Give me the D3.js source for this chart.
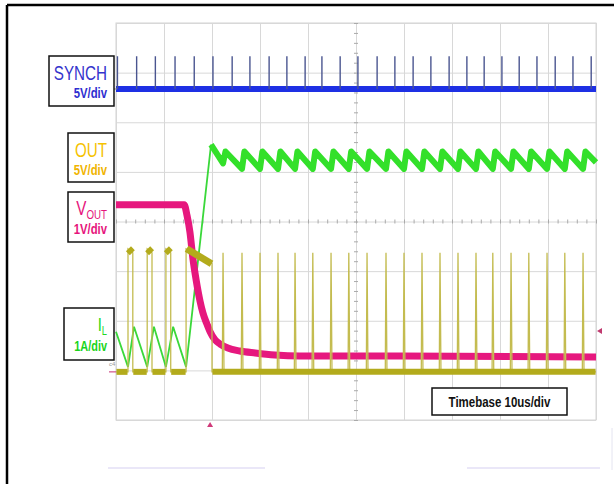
<!DOCTYPE html>
<html>
<head>
<meta charset="utf-8">
<script src="https://cdn.jsdelivr.net/npm/d3@7"></script>
<style>
  html, body { margin: 0; padding: 0; background: #fff; }
  svg { display: block; font-family: "Liberation Sans", Arial, sans-serif; }
</style>
</head>
<body>
<svg id="chart" width="614" height="484"></svg>
<script>
// ---------------- DATA (time in µs, 10 µs/div) ----------------
const timeDomain = [0, 100];
const divDomain = [-4, 4];

// SYNCH (5 V/div): clock spikes
const synchSpikeT = [0.3, 4.3, 8.2, 12.3, 16.3, 20.2, 24.2, 27.9, 31.9, 35.6, 39.4, 42.9, 46.7, 50.4,
                     54.4, 58.1, 61.9, 65.6, 69.4, 73.1, 76.7, 80.4, 84.0, 87.7, 91.5, 95.2, 99.0];
const synchBaseV = 0;
const synchSpikeV = 3.3;

// OUT switch node (5 V/div)
const outPulseRise = [2.5, 6.5, 10.4, 14.6];
const outPulseFall = [3.5, 7.5, 11.4, 20.0];
const outPulseStartV = [12.4, 12.4, 12.4, 12.4];
const outPulseEndV = [12.0, 12.0, 12.0, 10.9];
const outSpikeT = [22.3, 26.25, 30.0, 33.75, 37.3, 41.0, 44.8, 48.5, 52.3, 56.25, 60.0, 63.75, 67.5,
                   71.25, 75.0, 78.5, 82.3, 86.0, 89.8, 93.5, 97.3];
const outSpikeV = 12.0;
const outLowV = 0;

// VOUT (1 V/div)
const voutT = [0, 14.2, 14.8, 15.4, 16.0, 16.7, 17.5, 18.1, 19.0, 19.6, 20.6, 21.7, 23.3, 25.8, 29.0, 33.1, 38.3, 59.2, 100];
const voutV = [3.37, 3.37, 3.15, 2.82, 2.30, 1.85, 1.43, 1.19, 0.95, 0.81, 0.65, 0.56, 0.48, 0.42, 0.38, 0.34, 0.32, 0.32, 0.30];

// IL (1 A/div): normal operation then current limit
const ilT = [0, 2.5, 3.75, 6.5, 7.9, 10.4, 11.9, 14.6, 19.8];
const ilA = [0.81, 0.10, 0.91, 0.10, 0.91, 0.10, 0.91, 0.10, 4.58];
const ilFirstValleyA = 4.2;
const ilValleyA = 4.09;
const ilPeakA = 4.44;
const ilRiseT = 0.5;
const ilEndA = 4.22;

// channel settings: ground position in divisions, units per div
const channels = {
  synch: { offset: 2.67, perDiv: 5 },
  out:   { offset: -3.03, perDiv: 5 },
  vout:  { offset: -3.03, perDiv: 1 },
  il:    { offset: -3.03, perDiv: 1 }
};

// ---------------- DRAW ----------------
const svg = d3.select("#chart");
const L = 116, R = 596, T = 23, B = 420;
const x = d3.scaleLinear().domain(timeDomain).range([L, R]);
const yDiv = d3.scaleLinear().domain(divDomain).range([B, T]);
const yCh = (ch, v) => yDiv(channels[ch].offset + v / channels[ch].perDiv);
const lineFor = ch => d3.line().x(d => x(d[0])).y(d => yCh(ch, d[1]));

// frame
svg.append("line").attr("x1", 7).attr("x2", 614).attr("y1", 5).attr("y2", 5).attr("stroke", "#000").attr("stroke-width", 2.5);
svg.append("line").attr("x1", 7).attr("x2", 7).attr("y1", 5).attr("y2", 484).attr("stroke", "#000").attr("stroke-width", 2.5);

// faint bottom artifacts
svg.append("line").attr("x1", 108).attr("x2", 265).attr("y1", 468).attr("y2", 468).attr("stroke", "#d6d0f2").attr("stroke-width", 1.2);
svg.append("line").attr("x1", 467).attr("x2", 600).attr("y1", 468).attr("y2", 468).attr("stroke", "#d6d0f2").attr("stroke-width", 1.2);
svg.append("line").attr("x1", 612).attr("x2", 612).attr("y1", 428).attr("y2", 470).attr("stroke", "#e4e4f0").attr("stroke-width", 1);

// plot background
svg.append("rect").attr("x", L).attr("y", T).attr("width", R - L).attr("height", B - T).attr("fill", "#fff")
  .attr("stroke", "#d4d4d4").attr("stroke-width", 1);

// grid via axes
const gridColor = "#d8d8d8";
const gx = svg.append("g").attr("transform", `translate(0,${B})`)
  .call(d3.axisBottom(x).tickValues(d3.range(0, 101, 10)).tickSize(-(B - T)).tickFormat(""));
const gy = svg.append("g").attr("transform", `translate(${L},0)`)
  .call(d3.axisLeft(yDiv).tickValues(d3.range(-4, 5, 1)).tickSize(-(R - L)).tickFormat(""));
[gx, gy].forEach(g => {
  g.select(".domain").remove();
  g.selectAll(".tick line").attr("stroke", gridColor).attr("stroke-width", 1);
});

// center minor ticks
const cy = yDiv(0), cx = x(50);
const minorX = svg.append("g").attr("transform", `translate(0,${cy + 2})`)
  .call(d3.axisTop(x).tickValues(d3.range(0, 101, 2)).tickSize(4).tickFormat(""));
const minorY = svg.append("g").attr("transform", `translate(${cx + 2},0)`)
  .call(d3.axisLeft(yDiv).tickValues(d3.range(-4, 4.01, 0.2)).tickSize(4).tickFormat(""));
[minorX, minorY].forEach(g => {
  g.select(".domain").remove();
  g.selectAll(".tick line").attr("stroke", "#aaaaaa").attr("stroke-width", 1);
});

// ---- SYNCH ----
svg.append("path").datum([[0, synchBaseV], [100, synchBaseV]])
  .attr("d", lineFor("synch")).attr("fill", "none").attr("stroke", "#1e30e4").attr("stroke-width", 6);
svg.append("g").selectAll("line").data(synchSpikeT).join("line")
  .attr("x1", d => x(d)).attr("x2", d => x(d))
  .attr("y1", yCh("synch", synchBaseV)).attr("y2", yCh("synch", synchSpikeV))
  .attr("stroke", "#4a5590").attr("stroke-width", 1.4);

// ---- IL ----
svg.append("path").datum(ilT.map((t, i) => [t, ilA[i]]))
  .attr("d", lineFor("il")).attr("fill", "none").attr("stroke", "#3ad83a").attr("stroke-width", 1.8);
const ilSaw = [[ilT[ilT.length - 1], ilA[ilA.length - 1]]];
outSpikeT.forEach((t, i) => {
  ilSaw.push([t, i === 0 ? ilFirstValleyA : ilValleyA]);
  ilSaw.push([t + ilRiseT, ilPeakA]);
});
ilSaw.push([100, ilEndA]);
svg.append("path").datum(ilSaw)
  .attr("d", lineFor("il")).attr("fill", "none").attr("stroke", "#33e02a").attr("stroke-width", 6)
  .attr("stroke-linejoin", "round");

// ---- VOUT ----
svg.append("path").datum(voutT.map((t, i) => [t, voutV[i]]))
  .attr("d", lineFor("vout").curve(d3.curveMonotoneX)).attr("fill", "none").attr("stroke", "#e6187e").attr("stroke-width", 7);

// ---- OUT ----
// thin edges
const outThin = [[0, outLowV]];
outPulseRise.forEach((t, i) => {
  outThin.push([t, outLowV], [t, outPulseStartV[i]], [outPulseFall[i], outPulseEndV[i]], [outPulseFall[i], outLowV]);
});
outSpikeT.forEach(t => {
  outThin.push([t - 0.15, outLowV], [t, outSpikeV], [t + 0.2, outLowV]);
});
outThin.push([100, outLowV]);
svg.append("path").datum(outThin)
  .attr("d", lineFor("out")).attr("fill", "none").attr("stroke", "#c4bc50").attr("stroke-width", 1.3);
// thick low band segments
const lowSegs = [[0, outPulseRise[0]]];
outPulseRise.forEach((t, i) => {
  const next = i + 1 < outPulseRise.length ? outPulseRise[i + 1] : 100;
  lowSegs.push([outPulseFall[i], next]);
});
svg.append("g").selectAll("path").data(lowSegs).join("path")
  .attr("d", s => lineFor("out")([[s[0] + 0.1, outLowV], [s[1] - 0.1, outLowV]]))
  .attr("fill", "none").attr("stroke", "#b3ab1c").attr("stroke-width", 6);
// plateaus
svg.append("g").selectAll("path").data(outPulseRise).join("path")
  .attr("d", (t, i) => lineFor("out")([[t + 0.1, outPulseStartV[i]], [outPulseFall[i] - 0.1, outPulseEndV[i]]]))
  .attr("fill", "none").attr("stroke", "#b3ab1c").attr("stroke-width", 7);

// ---- markers ----
const mk = svg.append("g");
mk.append("text").attr("x", 107).attr("y", 85).attr("font-size", 6).attr("fill", "#999").text("c1");
mk.append("line").attr("x1", 111).attr("x2", 117).attr("y1", yCh("synch", 0)).attr("y2", yCh("synch", 0)).attr("stroke", "#888").attr("stroke-width", 1);
mk.append("text").attr("x", 109).attr("y", 366).attr("font-size", 6).attr("fill", "#999").text("c4");
mk.append("line").attr("x1", 109).attr("x2", 116).attr("y1", yCh("vout", 0)).attr("y2", yCh("vout", 0)).attr("stroke", "#d0508a").attr("stroke-width", 1.2);
const trigX = x(19.6);
mk.append("path").attr("d", `M${trigX},${B + 2} l-3,5 l6,0 z`).attr("fill", "#d03a7a");
mk.append("path").attr("d", `M${R + 1},${331} l5,-3 l0,6 z`).attr("fill", "#c03a70");

// ---- labels ----
const lab = svg.append("g");
function box(x0, y0, x1, y1) {
  lab.append("rect").attr("x", x0).attr("y", y0).attr("width", x1 - x0).attr("height", y1 - y0)
    .attr("fill", "#fff").attr("stroke", "#111").attr("stroke-width", 1.5);
}
function ctext(xr, y, str, size, color, bold, sx = 0.78) {
  return lab.append("text").attr("transform", `translate(${xr},${y}) scale(${sx},1)`)
    .attr("text-anchor", "end").attr("font-size", size).attr("fill", color)
    .attr("font-weight", bold ? "bold" : "normal").text(str);
}
box(49, 56, 114, 106);
ctext(107, 80, "SYNCH", 19.5, "#3434cc", false);
ctext(107, 98, "5V/div", 14.5, "#2e2ed0", true);

box(68, 133, 114, 182);
ctext(107, 157, "OUT", 19.5, "#f5c200", false);
ctext(107, 175, "5V/div", 14.5, "#f0b400", true);

box(68, 192, 114, 242);
const vt = lab.append("text").attr("transform", `translate(107,215) scale(0.78,1)`)
  .attr("text-anchor", "end").attr("fill", "#e6147c").attr("font-size", 19.5);
vt.append("tspan").text("V");
vt.append("tspan").attr("font-size", 12.5).attr("dy", 4).text("OUT");
ctext(107, 234, "1V/div", 14.5, "#e6147c", true);

box(64, 308, 114, 360);
const it = lab.append("text").attr("transform", `translate(107,331) scale(0.78,1)`)
  .attr("text-anchor", "end").attr("fill", "#22d822").attr("font-size", 19);
it.append("tspan").text("I");
it.append("tspan").attr("font-size", 12).attr("dy", 4).text("L");
ctext(107, 351, "1A/div", 14, "#1ad41a", true);

box(432, 388, 567, 415);
lab.append("text").attr("transform", `translate(499.5,407) scale(0.82,1)`)
  .attr("text-anchor", "middle").attr("font-size", 14).attr("font-weight", "bold").attr("fill", "#111")
  .text("Timebase 10us/div");
</script>
</body>
</html>
